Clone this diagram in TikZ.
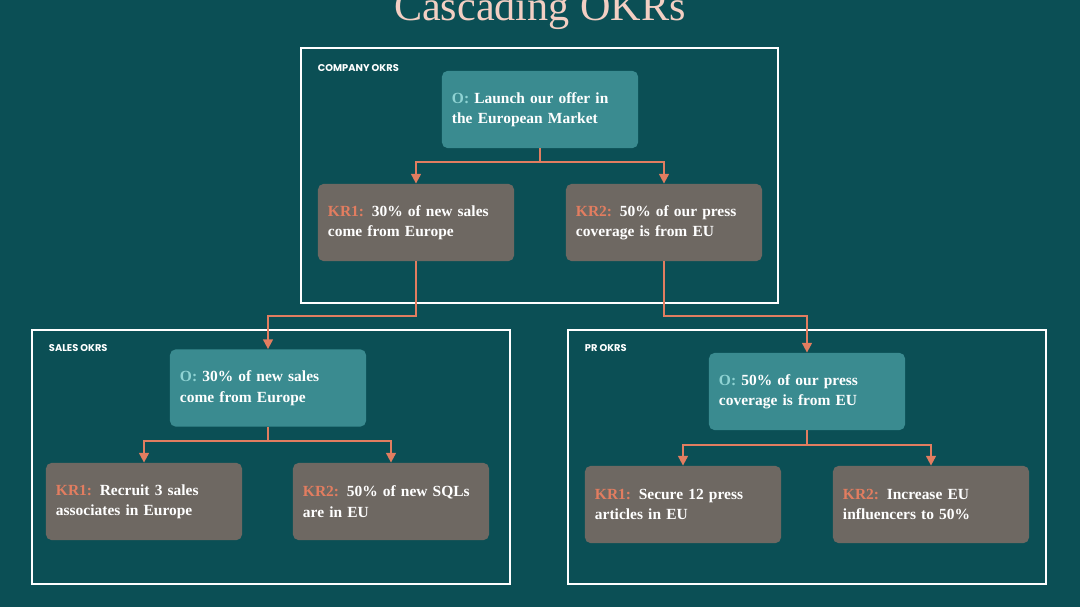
\documentclass[tikz,border=0pt]{standalone}
\usepackage{fontspec}
\setmainfont{Liberation Serif}
\newfontfamily\labelfont{Poppins}
\usetikzlibrary{arrows.meta}
\definecolor{bgteal}{HTML}{0B4F55}
\definecolor{objteal}{HTML}{3A8B90}
\definecolor{krgrey}{HTML}{6E6862}
\definecolor{arrowred}{HTML}{E27D60}
\definecolor{otext}{HTML}{8FD3D3}
\definecolor{titlepink}{HTML}{F3CFC3}
\newcommand{\Ob}{\textcolor{otext}{O:}}
\newcommand{\KRa}{\textcolor{arrowred}{KR1:}}
\newcommand{\KRb}{\textcolor{arrowred}{KR2:}}
\tikzset{
  px/.style={x=0.025cm,y=-0.025cm},
  objbox/.style={fill=objteal,rounded corners=4pt,minimum width=4.9cm,minimum height=1.93cm,
    text width=4.4cm,align=left,text=white,font=\bfseries\fontsize{11}{14.5}\selectfont},
  krbox/.style={objbox,fill=krgrey},
  frame/.style={draw=white,line width=1.4pt},
  grouplabel/.style={anchor=west,text=white,font=\labelfont\bfseries\fontsize{7}{8}\selectfont},
  link/.style={draw=arrowred,line width=1.4pt,-{Triangle[length=7pt,width=7pt]}}
}
\begin{document}
\begin{tikzpicture}[px]
\fill[bgteal] (0,0) rectangle (1080,607);
\useasboundingbox (0,0) rectangle (1080,607);
\node[anchor=base] (title) at (540,20) {\fontsize{30}{32}\selectfont\textcolor{titlepink}{Cascading OKRs}};
% company
\draw[frame] (301,48) rectangle (778,303);
\node[grouplabel] (lcomp) at (313,68) {COMPANY OKRS};
\node[objbox] (CO) at (540,109.5) {\Ob{} Launch our offer in\\the European Market};
\node[krbox] (C1) at (416,222.5) {\KRa{} 30\% of new sales\\come from Europe};
\node[krbox] (C2) at (664,222.5) {\KRb{} 50\% of our press\\coverage is from EU};
% sales
\draw[frame] (32,330) rectangle (510,584);
\node[grouplabel] (lsales) at (44,348) {SALES OKRS};
\node[objbox] (SO) at (268,388) {\Ob{} 30\% of new sales\\come from Europe};
\node[krbox] (S1) at (144,501.5) {\KRa{} Recruit 3 sales\\associates in Europe};
\node[krbox] (S2) at (391,501.5) {\KRb{} 50\% of new SQLs\\are in EU};
% pr
\draw[frame] (568,330) rectangle (1046,584);
\node[grouplabel] (lpr) at (580,348) {PR OKRS};
\node[objbox] (PO) at (807,391.5) {\Ob{} 50\% of our press\\coverage is from EU};
\node[krbox] (P1) at (683,504.5) {\KRa{} Secure 12 press\\articles in EU};
\node[krbox] (P2) at (931,504.5) {\KRb{} Increase EU\\influencers to 50\%};
% connectors
\draw[link] (CO.south) -- ++(0,14) -| (C1.north);
\draw[link] (CO.south) -- ++(0,14) -| (C2.north);
\draw[link] (C1.south) -- ++(0,55) -| (SO.north);
\draw[link] (C2.south) -- ++(0,55) -| (PO.north);
\draw[link] (SO.south) -- ++(0,14) -| (S1.north);
\draw[link] (SO.south) -- ++(0,14) -| (S2.north);
\draw[link] (PO.south) -- ++(0,15) -| (P1.north);
\draw[link] (PO.south) -- ++(0,15) -| (P2.north);
\end{tikzpicture}
\end{document}
